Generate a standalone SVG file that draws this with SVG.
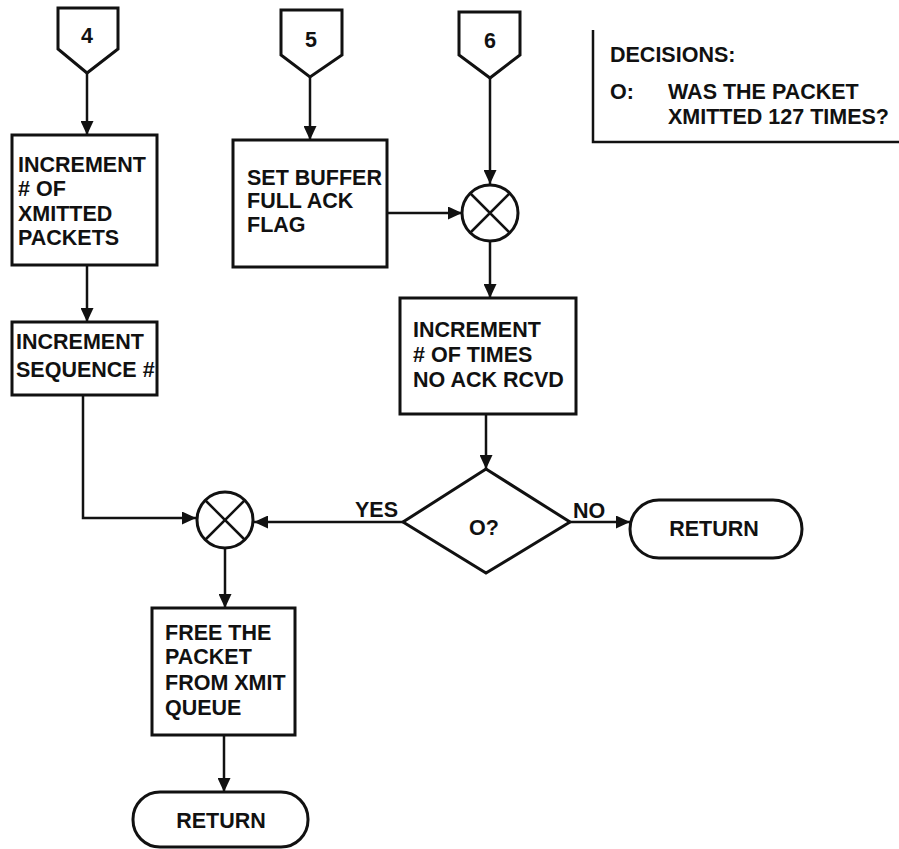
<svg xmlns="http://www.w3.org/2000/svg" width="899" height="849" viewBox="0 0 899 849">
  <defs>
    <marker id="arrow" viewBox="0 0 14 13" refX="14" refY="6.5" markerWidth="14" markerHeight="13" markerUnits="userSpaceOnUse" orient="auto">
      <path d="M0,0 L14,6.5 L0,13 Z" fill="#111"/>
    </marker>
  </defs>
  <style>
    .shape { fill: #fff; stroke: #111; stroke-width: 3; stroke-linejoin: miter; }
    .conn { fill: none; stroke: #111; stroke-width: 2.5; }
    .t { font-family: "Liberation Sans", Arial, sans-serif; font-weight: bold; font-size: 21.5px; fill: #111; }
    .c { text-anchor: middle; }
  </style>
  <rect x="0" y="0" width="899" height="849" fill="#fff"/>

  <!-- connectors -->
  <g id="connectors">
    <path class="conn" d="M87,73 V135" marker-end="url(#arrow)"/>
    <path class="conn" d="M310,77 V140" marker-end="url(#arrow)"/>
    <path class="conn" d="M490,78 V184" marker-end="url(#arrow)"/>
    <path class="conn" d="M387,213 H462" marker-end="url(#arrow)"/>
    <path class="conn" d="M490,241 V298" marker-end="url(#arrow)"/>
    <path class="conn" d="M87,265 V322" marker-end="url(#arrow)"/>
    <path class="conn" d="M486,414 V469" marker-end="url(#arrow)"/>
    <path class="conn" d="M83,395 V518 H196" marker-end="url(#arrow)"/>
    <path class="conn" d="M403,522 H254" marker-end="url(#arrow)"/>
    <path class="conn" d="M570,522 H630" marker-end="url(#arrow)"/>
    <path class="conn" d="M225,549 V608" marker-end="url(#arrow)"/>
    <path class="conn" d="M224,735 V792" marker-end="url(#arrow)"/>
  </g>

  <!-- off-page connectors -->
  <g id="conn4">
    <polygon class="shape" points="58,8 118,8 118,49 87,73 58,49"/>
    <text class="t c" x="87" y="43" font-size="19">4</text>
  </g>
  <g id="conn5">
    <polygon class="shape" points="281,10 342,10 342,55 310,77 281,55"/>
    <text class="t c" x="311" y="47" font-size="19">5</text>
  </g>
  <g id="conn6">
    <polygon class="shape" points="459,12 520,12 520,55 490,78 459,55"/>
    <text class="t c" x="490" y="48" font-size="19">6</text>
  </g>

  <!-- process boxes -->
  <g id="incXmitted">
    <rect class="shape" x="12" y="135" width="145" height="130"/>
    <text class="t" x="18" y="172">INCREMENT</text>
    <text class="t" x="18" y="196"># OF</text>
    <text class="t" x="18" y="221">XMITTED</text>
    <text class="t" x="18" y="245">PACKETS</text>
  </g>
  <g id="setBuffer">
    <rect class="shape" x="233" y="140" width="154" height="127"/>
    <text class="t" x="247" y="185">SET BUFFER</text>
    <text class="t" x="247" y="208">FULL ACK</text>
    <text class="t" x="247" y="232">FLAG</text>
  </g>
  <g id="join1">
    <circle class="shape" cx="490" cy="213" r="28"/>
    <path class="conn" d="M470,193 L510,233 M510,193 L470,233"/>
  </g>
  <g id="incNoAck">
    <rect class="shape" x="400" y="298" width="176" height="116"/>
    <text class="t" x="413" y="337">INCREMENT</text>
    <text class="t" x="413" y="362"># OF TIMES</text>
    <text class="t" x="413" y="387">NO ACK RCVD</text>
  </g>
  <g id="incSeq">
    <rect class="shape" x="12" y="322" width="145" height="73"/>
    <text class="t" x="16" y="349">INCREMENT</text>
    <text class="t" x="16" y="377">SEQUENCE #</text>
  </g>

  <!-- decision -->
  <g id="decisionO">
    <polygon class="shape" points="486,469 570,522 486,573 403,522"/>
    <text class="t c" x="484" y="535">O?</text>
    <text class="t" x="355" y="517" font-size="19">YES</text>
    <text class="t" x="573" y="518" font-size="19">NO</text>
  </g>
  <g id="return1">
    <rect class="shape" x="630" y="500" width="172" height="58" rx="29" ry="29"/>
    <text class="t c" x="714" y="536">RETURN</text>
  </g>

  <g id="join2">
    <circle class="shape" cx="225" cy="520" r="28"/>
    <path class="conn" d="M205,500 L245,540 M245,500 L205,540"/>
  </g>
  <g id="freePacket">
    <rect class="shape" x="152" y="608" width="143" height="127"/>
    <text class="t" x="165" y="640">FREE THE</text>
    <text class="t" x="165" y="664">PACKET</text>
    <text class="t" x="165" y="690">FROM XMIT</text>
    <text class="t" x="165" y="715">QUEUE</text>
  </g>
  <g id="return2">
    <rect class="shape" x="133" y="792" width="175" height="55" rx="27" ry="27"/>
    <text class="t c" x="221" y="828">RETURN</text>
  </g>

  <!-- legend -->
  <g id="legend">
    <path class="conn" d="M593,30 V142 H899" stroke-width="3"/>
    <text class="t" x="610" y="62" font-size="20">DECISIONS:</text>
    <text class="t" x="610" y="99" font-size="20">O:</text>
    <text class="t" x="668" y="99" font-size="19.5">WAS THE PACKET</text>
    <text class="t" x="668" y="124" font-size="20">XMITTED 127 TIMES?</text>
  </g>
</svg>
